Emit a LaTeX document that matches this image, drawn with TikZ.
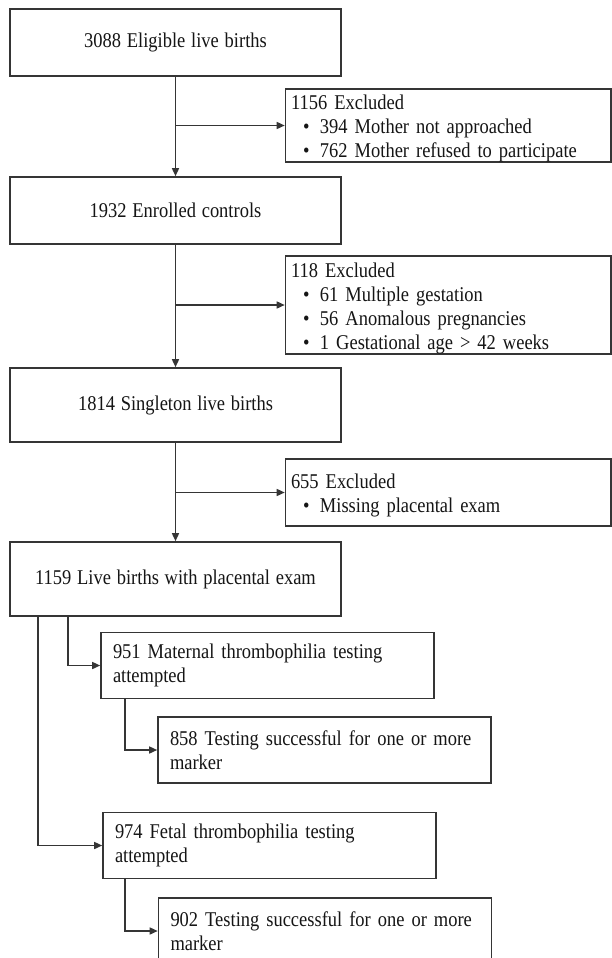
\documentclass[tikz,border=0pt]{standalone}
\usepackage{fontspec}
\setmainfont[FakeStretch=0.88,WordSpace=1.25]{Liberation Serif}
\usetikzlibrary{arrows.meta,calc}
\definecolor{boxc}{HTML}{353535}
\definecolor{txtc}{HTML}{151515}
\newcommand\exbul{\hspace*{12pt}\makebox[17pt][l]{\textbullet}}
\newcommand\exhead{\rule{0pt}{21pt}}
\begin{document}
\begin{tikzpicture}[x=1pt,y=-1pt,
  box/.style={draw=boxc, line width=1.6pt, fill=white, inner sep=0pt,
    font=\fontsize{21}{24}\selectfont, text=txtc},
  mainbox/.style={box, minimum width=331pt, align=center},
  exclbox/.style={box, minimum width=325.5pt, text width=314.5pt, inner xsep=5.5pt, align=left},
  subbox/.style={box, minimum width=333pt, minimum height=66pt, text width=309pt, inner xsep=12pt, align=left},
  conn/.style={draw=boxc, line width=1.5pt, -{Triangle[length=8pt,width=7pt]}}
]
\useasboundingbox (0,0) rectangle (612,958);
\fill[white] (0,0) rectangle (612,958);

\node[mainbox, minimum height=67pt] (b1) at (175.5,42.5) {3088 Eligible live births};
\node[exclbox, minimum height=73pt] (e1) at (448.25,125.5) {\exhead 1156 Excluded\\ \exbul 394 Mother not approached\\ \exbul 762 Mother refused to participate};
\node[mainbox, minimum height=67pt] (b2) at (175.5,210.5) {1932 Enrolled controls};
\node[exclbox, minimum height=98pt] (e2) at (448.25,305) {\exhead 118 Excluded\\ \exbul 61 Multiple gestation\\ \exbul 56 Anomalous pregnancies\\ \exbul 1 Gestational age > 42 weeks};
\node[mainbox, minimum height=74pt] (b3) at (175.5,405) {1814 Singleton live births};
\node[exclbox, minimum height=67pt] (e3) at (448.25,492.5) {\exhead 655 Excluded\\ \exbul Missing placental exam};
\node[mainbox, minimum height=74pt] (b4) at (175.5,579) {1159 Live births with placental exam};
\node[subbox] (b5) at (267.5,665.5) {951 Maternal thrombophilia testing\\attempted};
\node[subbox] (b6) at (324.5,750) {858 Testing successful for one or more\\marker};
\node[subbox] (b7) at (269.5,845.5) {974 Fetal thrombophilia testing\\attempted};
\node[subbox] (b8) at (325,931) {902 Testing successful for one or more\\marker};

\draw[conn] (b1.south) -- (b2.north);
\draw[conn] (b1.south |- e1.west) -- (e1.west);
\draw[conn] (b2.south) -- (b3.north);
\draw[conn] (b2.south |- e2.west) -- (e2.west);
\draw[conn] (b3.south) -- (b4.north);
\draw[conn] (b3.south |- e3.west) -- (e3.west);
\draw[conn] ([xshift=59pt]b4.south west) |- (b5.west);
\draw[conn] ([xshift=29pt]b4.south west) |- (b7.west);
\draw[conn] ([xshift=25pt]b5.south west) |- (b6.west);
\draw[conn] ([xshift=23pt]b7.south west) |- (b8.west);
\end{tikzpicture}
\end{document}
